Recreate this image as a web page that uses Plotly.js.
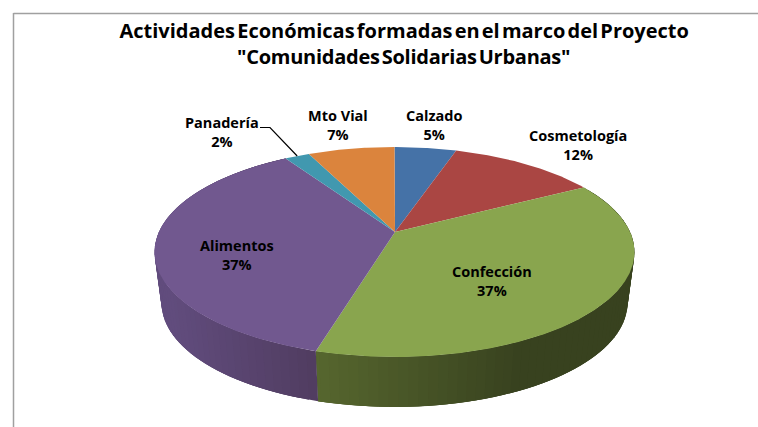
<!DOCTYPE html>
<html><head><meta charset="utf-8">
<script src="https://cdn.plot.ly/plotly-3.0.1.min.js"></script>
<style>html,body{margin:0;padding:0;background:#fff}#c{width:758px;height:427px}</style>
</head><body><div id="c"></div>
<script>
const categories = ["Calzado","Cosmetología","Confección","Alimentos","Panadería","Mto Vial"];
const values = [5,12,37.4,36.6,2,7];
const topColors = ["#4572a7","#aa4643","#89a54e","#71588f","#4198af","#db843d"];
const labelAnchors = [[434,124.5],[578,145],[492,280.5],[237,254.5],[222,131.5],[338,124.5]];
const titleLines = ["Actividades Económicas formadas en el marco del Proyecto","\"Comunidades Solidarias Urbanas\""];

const cx=394.5, topCy=252, rx=240, ry=105, botCy=303, rxB=233, ryB=104, c=0.19;
function proj(deg,ccx,ccy,a,b){
  const t=deg*Math.PI/180,u=Math.sin(t),v=Math.cos(t),d=1+c*v;
  return [ccx+a*u*Math.sqrt(1-c*c)/d, ccy-b*(v+c)/d];
}
const total=values.reduce((a,b)=>a+b,0);
let cum=0; const bounds=values.map(v=>{const s=cum;cum+=v;return [s/total*360,cum/total*360];});
const traces=[];
function shade(i,x){
  const base = i===3 ? [[97,76,125],[80,60,96]] : [[86,102,46],[56,66,31]];
  const g = i===2 ? Math.min(1,Math.max(0,(x-317)/(520-317))) : Math.min(1,Math.max(0,(x-170)/(317-170)));
  const col = base[0].map((b,k)=>Math.round(b+(base[1][k]-b)*g));
  return `rgb(${col.join(",")})`;
}
// side wall
bounds.forEach((b,i)=>{
  if(i!==2&&i!==3) return;
  const step=2;
  for(let a=b[0];a<b[1];a+=step){
    const e=Math.min(a+step+4,b[1]);
    const p=[proj(a,cx,topCy,rx,ry),proj(e,cx,topCy,rx,ry),proj(e,cx,botCy,rxB,ryB),proj(a,cx,botCy,rxB,ryB)];
    p.push(p[0]);
    const m=proj(a+1,cx,topCy,rx,ry);
    traces.push({type:"scatter",mode:"lines",x:p.map(q=>q[0]),y:p.map(q=>q[1]),fill:"toself",
      fillcolor:shade(i,m[0]),line:{width:0},hoverinfo:"skip",showlegend:false});
  }
});
// top faces
const piv=[cx+0.5,topCy-20];
bounds.forEach((b,i)=>{
  const xs=[piv[0]],ys=[piv[1]];
  for(let a=b[0];a<=b[1]+1e-6;a+=0.5){const q=proj(a,cx,topCy,rx,ry);xs.push(q[0]);ys.push(q[1]);}
  const q=proj(b[1],cx,topCy,rx,ry);xs.push(q[0],piv[0]);ys.push(q[1],piv[1]);
  traces.push({type:"scatter",mode:"lines",x:xs,y:ys,fill:"toself",fillcolor:topColors[i],
    line:{width:0},name:categories[i],hoverinfo:"name",showlegend:false});
});
// leader line
const lead=proj((bounds[4][0]+bounds[4][1])/2,cx,topCy,rx,ry);
traces.push({type:"scatter",mode:"lines",x:[260,270,lead[0]],y:[127.5,127.5,lead[1]],line:{color:"#000",width:1.2},hoverinfo:"skip",showlegend:false});

const font="Open Sans";
const annotations=categories.map((n,i)=>({x:labelAnchors[i][0],y:labelAnchors[i][1],xref:"x",yref:"y",showarrow:false,
  text:n+"<br>"+Math.round(values[i])+"%",align:"center",font:{family:font,size:14.5,color:"#000",weight:700}}));
titleLines.forEach((t,i)=>annotations.push({x:403.5,y:30+i*26.5,xref:"x",yref:"y",showarrow:false,text:t,
  font:{family:font,size:20,color:"#000",weight:700}}));
Plotly.newPlot("c",traces,{width:758,height:427,margin:{l:0,r:0,t:0,b:0},paper_bgcolor:"#fff",plot_bgcolor:"#fff",
  xaxis:{range:[0,758],visible:false,fixedrange:true},yaxis:{range:[427,0],visible:false,fixedrange:true},
  showlegend:false,annotations,
  shapes:[{type:"line",x0:13.5,x1:758,y0:13.5,y1:13.5,line:{color:"#a0a0a0",width:1.5}},{type:"line",x0:13.5,x1:13.5,y0:13,y1:427,line:{color:"#a0a0a0",width:1.5}}]
},{displayModeBar:false,staticPlot:true}).then(()=>{
  document.querySelectorAll(".annotation-text").forEach(el=>{
    const s=el.textContent;
    if(s===titleLines[0]) el.style.wordSpacing="-3px";
    if(s===titleLines[1]){ el.style.wordSpacing="-3px"; el.style.letterSpacing="-0.25px"; }
  });
});
</script></body></html>
